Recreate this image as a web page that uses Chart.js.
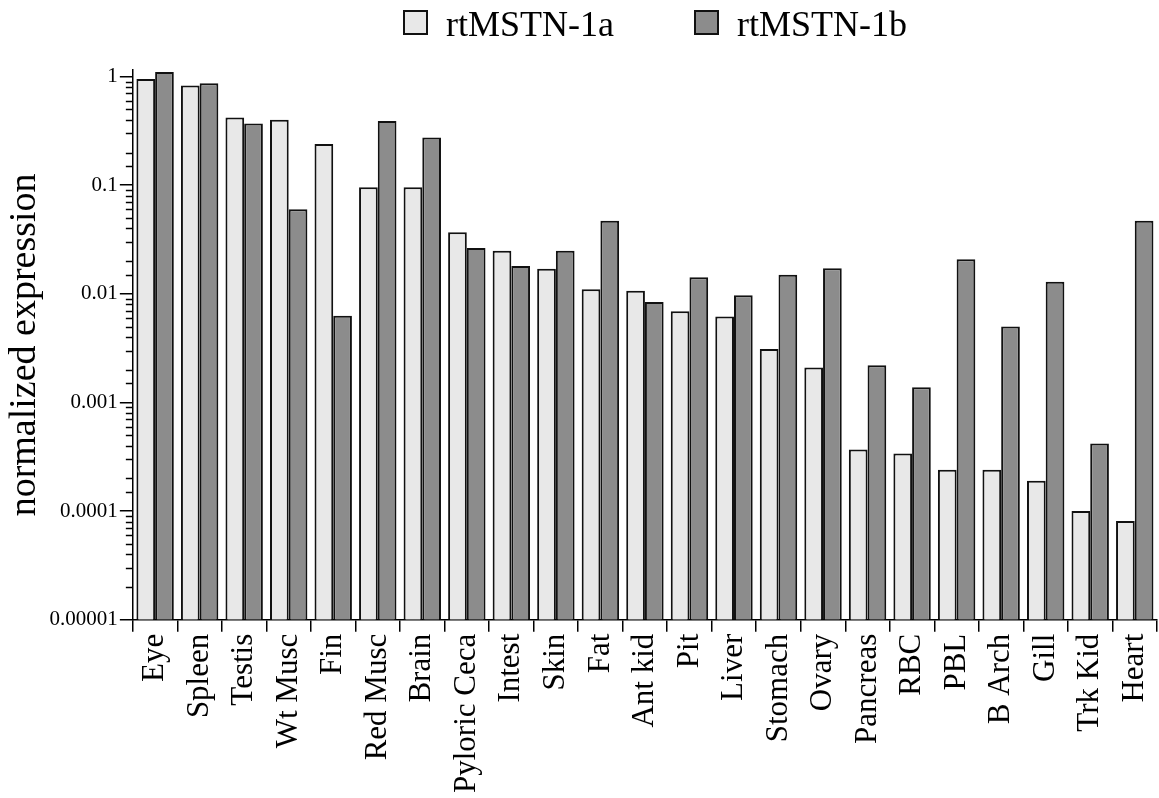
<!DOCTYPE html>
<html lang="en">
<head>
<meta charset="utf-8">
<title>rtMSTN expression</title>
<script src="https://cdn.jsdelivr.net/npm/chart.js@4/dist/chart.umd.min.js"></script>
<style>
    html, body { margin: 0; padding: 0; background: #fff; }
    .wrap { position: relative; width: 1159px; height: 798px; }
    #legend {
        position: absolute; top: 6px; left: 403px;
        display: flex; align-items: center;
        font-family: "Liberation Serif", "Times New Roman", serif;
        font-size: 36px; line-height: 36px; color: #000;
    }
    #legend .item { display: flex; align-items: center; margin-right: 80px; }
    #legend .box {
        width: 25px; height: 25px; border: 2px solid #111; margin-right: 18px;
        box-sizing: border-box; position: relative; top: -2px;
    }
</style>
</head>
<body>
<div class="wrap">
    <canvas id="exprChart" width="1159" height="798"></canvas>
    <div id="legend"></div>
</div>

<script>
    // tissues on the x axis
    const tissues = ['Eye', 'Spleen', 'Testis', 'Wt Musc', 'Fin', 'Red Musc', 'Brain', 'Pyloric Ceca',
        'Intest', 'Skin', 'Fat', 'Ant kid', 'Pit', 'Liver', 'Stomach', 'Ovary', 'Pancreas', 'RBC',
        'PBL', 'B Arch', 'Gill', 'Trk Kid', 'Heart'];

    // normalized expression
    const mstn1a = [0.95, 0.83, 0.42, 0.40, 0.24, 0.096, 0.096, 0.037, 0.025, 0.017, 0.011, 0.0107,
        0.0069, 0.0062, 0.0031, 0.0021, 0.00037, 0.00034, 0.00024, 0.00024, 0.00019, 0.0001, 0.000081];
    const mstn1b = [1.1, 0.87, 0.37, 0.06, 0.0063, 0.39, 0.275, 0.0265, 0.018, 0.025, 0.047, 0.0084,
        0.0142, 0.0097, 0.015, 0.0172, 0.0022, 0.00138, 0.0208, 0.005, 0.0129, 0.00042, 0.047];

    const seriesNames = ['rtMSTN-1a', 'rtMSTN-1b'];
    const seriesColors = ['#e8e8e8', '#8c8c8c'];
    const yMin = 0.00001;
    const yMax = 1.15;

    const serif = '"Liberation Serif", "Times New Roman", serif';

    function isDecade(v) {
        const e = Math.log10(v);
        return Math.abs(e - Math.round(e)) < 1e-6;
    }

    // short ticks for 2..9 of each decade
    const minorTicks = {
        id: 'minorTicks',
        afterDraw(chart) {
            const scale = chart.scales.y;
            const ctx = chart.ctx;
            ctx.save();
            ctx.strokeStyle = '#000';
            ctx.lineWidth = 1.5;
            scale.ticks.forEach(function (t) {
                if (isDecade(t.value) || t.value > 1.0001) return;
                const y = Math.round(scale.getPixelForValue(t.value)) + 0.5;
                ctx.beginPath();
                ctx.moveTo(scale.right - 7, y);
                ctx.lineTo(scale.right, y);
                ctx.stroke();
            });
            ctx.restore();
        }
    };

    const chart = new Chart(document.getElementById('exprChart'), {
        type: 'bar',
        data: {
            labels: tissues,
            datasets: [{
                label: seriesNames[0],
                data: mstn1a,
                backgroundColor: seriesColors[0],
                borderColor: '#111',
                borderWidth: 2
            }, {
                label: seriesNames[1],
                data: mstn1b,
                backgroundColor: seriesColors[1],
                borderColor: '#111',
                borderWidth: 2
            }]
        },
        options: {
            responsive: false,
            animation: false,
            layout: { padding: { top: 70, left: 0, right: 2, bottom: 3 } },
            datasets: { bar: { categoryPercentage: 0.84, barPercentage: 1.0 } },
            plugins: {
                legend: { display: false },
                tooltip: { enabled: false }
            },
            scales: {
                x: {
                    border: { color: '#000', width: 1.5 },
                    grid: { offset: true, drawOnChartArea: false, drawTicks: true, tickLength: 12, color: '#000', lineWidth: 1.5 },
                    ticks: {
                        autoSkip: false, minRotation: 90, maxRotation: 90, padding: 2,
                        color: '#000', font: { family: serif, size: 31 }
                    },
                    // the rotated last label should not pull the plot in from the right
                    afterFit: function (s) { s.paddingRight = 0; }
                },
                y: {
                    type: 'logarithmic',
                    min: yMin,
                    max: yMax,
                    border: { color: '#000', width: 1.5 },
                    grid: {
                        drawOnChartArea: false, drawTicks: true, tickLength: 13, lineWidth: 1.5,
                        tickColor: function (c) { return c.tick && isDecade(c.tick.value) ? '#000' : 'rgba(0,0,0,0)'; }
                    },
                    ticks: {
                        autoSkip: false, padding: 2, color: '#000',
                        font: { family: serif, size: 21 },
                        callback: function (v) {
                            if (!isDecade(v) || v > 1.0001) return '';
                            const e = Math.round(Math.log10(v));
                            return e >= 0 ? '1' : Math.pow(10, e).toFixed(-e);
                        }
                    },
                    title: {
                        display: true, text: 'normalized expression', color: '#000',
                        font: { family: serif, size: 38 }, padding: { top: 2, bottom: 0 }
                    }
                }
            }
        },
        plugins: [minorTicks]
    });

    // legend built from the datasets
    const legendEl = document.getElementById('legend');
    chart.data.datasets.forEach(function (ds) {
        const item = document.createElement('div');
        item.className = 'item';
        const box = document.createElement('span');
        box.className = 'box';
        box.style.background = ds.backgroundColor;
        const label = document.createElement('span');
        label.textContent = ds.label;
        item.appendChild(box);
        item.appendChild(label);
        legendEl.appendChild(item);
    });
</script>
</body>
</html>
